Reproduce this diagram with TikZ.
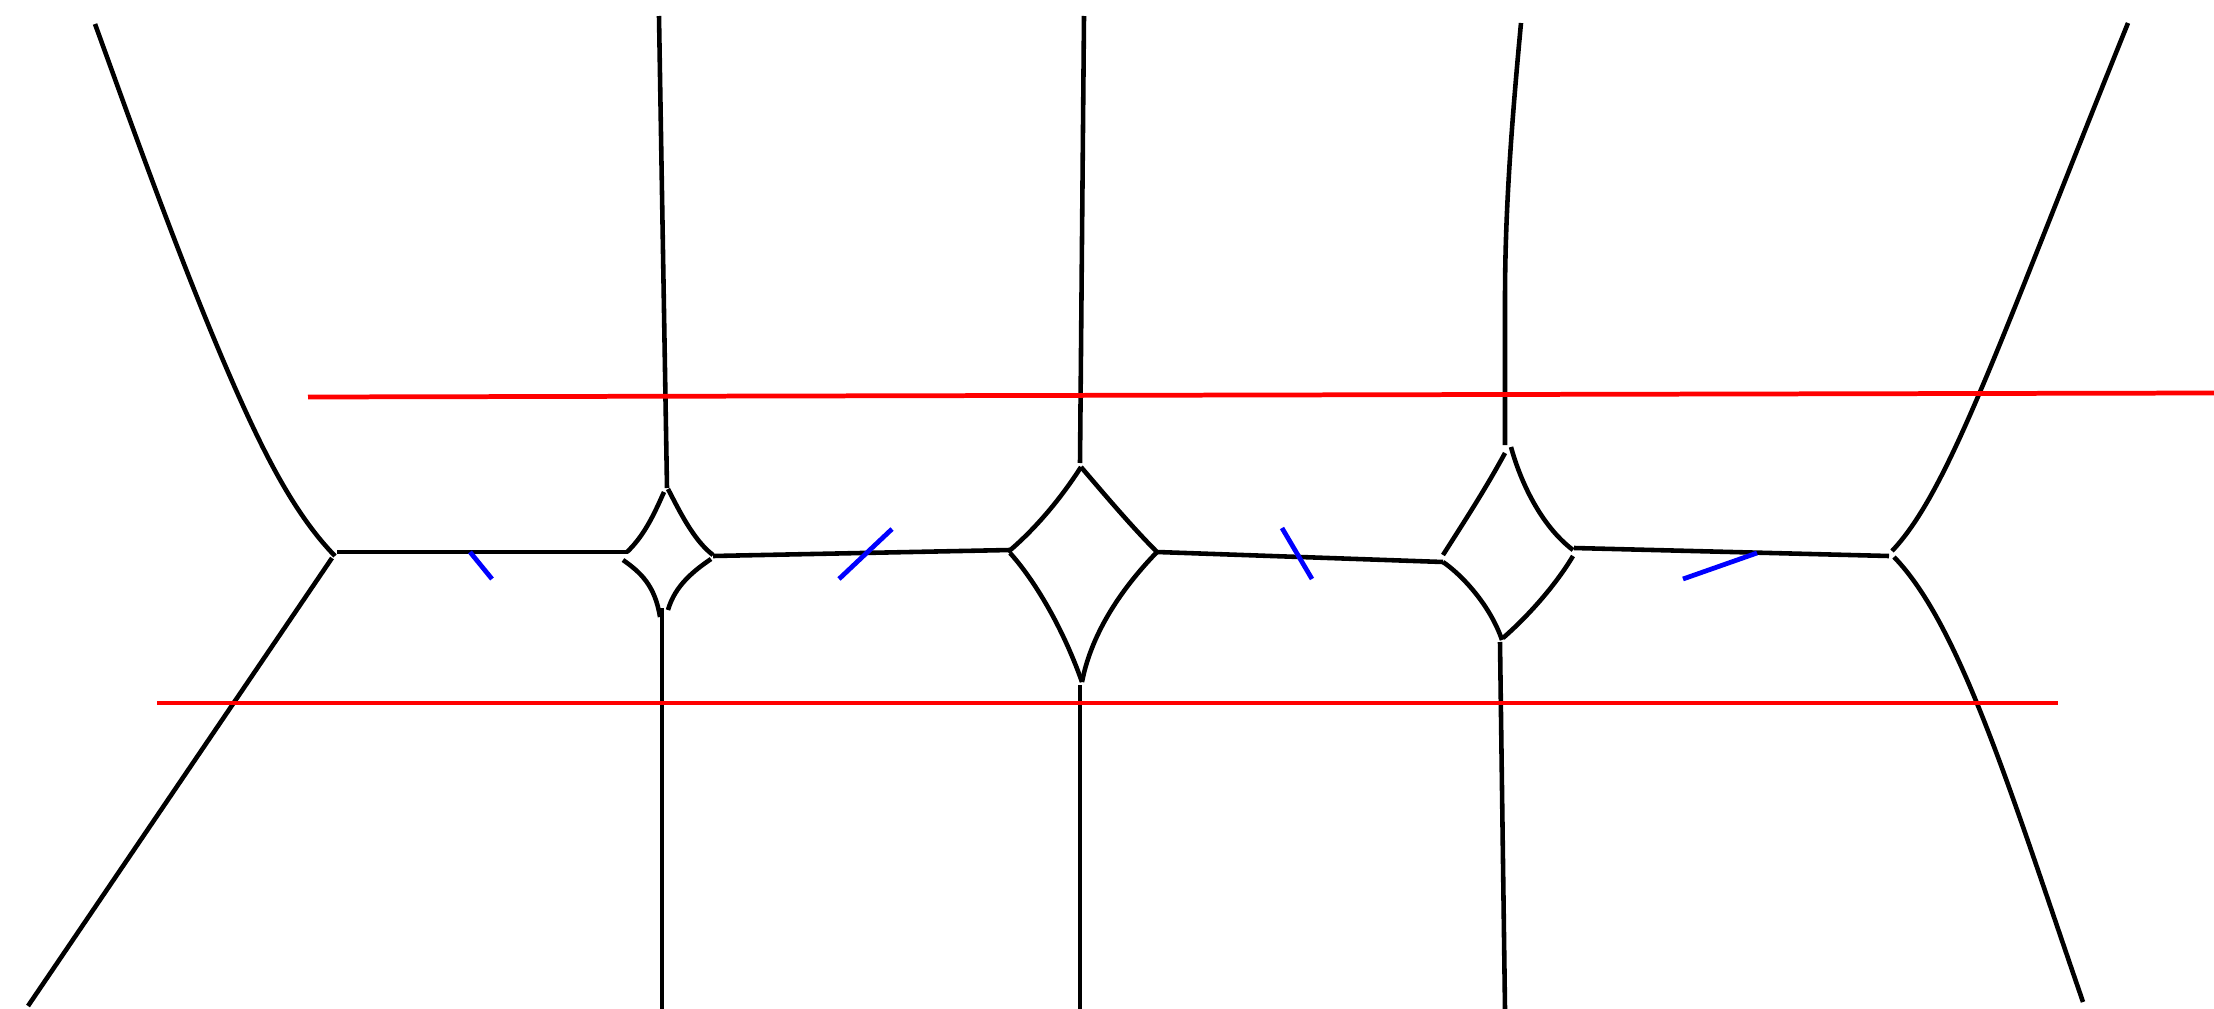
\documentclass[tikz,border=0pt]{standalone}
\begin{document}
\begin{tikzpicture}[x=0.01cm,y=-0.01cm,
  curve/.style={black,line width=1.3pt},
  redline/.style={red,line width=1.35pt},
  tickmark/.style={blue,line width=1.35pt}]
\useasboundingbox (0,0) rectangle (2214,1009);
% ---------- left junction ----------
\coordinate (L1top) at (95,24);
\coordinate (L1end) at (335,556);
\coordinate (L2start) at (332,558);
\coordinate (L2bot) at (28,1006);
\draw[curve] (L1top) .. controls (130,120) and (190,290) .. (245,410) .. controls (272.5,470) and (300,520) .. (L1end);
\draw[curve] (L2start) -- (L2bot);
\coordinate (H1a) at (337,552);
\coordinate (H1b) at (628,552);
\draw[curve] (H1a) -- (H1b);
% ---------- junction 2 ----------
\coordinate (V1top) at (659,16);
\coordinate (V1end) at (667,488);
\draw[curve] (V1top) -- (V1end);
\draw[curve] (664,492) .. controls (655,512) and (645,535) .. (627,552);
\draw[curve] (668,489) .. controls (678,508) and (693,540) .. (713,555);
\draw[curve] (623,560) .. controls (640,572) and (655,585) .. (660,617);
\draw[curve] (711,559) .. controls (695,570) and (675,585) .. (668,610);
\coordinate (V1b) at (662,608);
\coordinate (V1bot) at (662,1009);
\draw[curve] (V1b) -- (V1bot);
\coordinate (H2a) at (713,556);
\coordinate (H2b) at (1010,550);
\draw[curve] (H2a) -- (H2b);
% ---------- junction 3 ----------
\coordinate (V2top) at (1084,16);
\coordinate (V2end) at (1080,463);
\draw[curve] (V2top) -- (V2end);
\coordinate (D3t) at (1081,467);
\coordinate (D3l) at (1008,552);
\coordinate (D3r) at (1157,552);
\coordinate (D3b) at (1082,682);
\draw[curve] (D3t) .. controls (1065,492) and (1040,525) .. (D3l);
\draw[curve] (D3t) .. controls (1105,495) and (1132,527) .. (D3r);
\draw[curve] (1010,553) .. controls (1030,575) and (1060,620) .. (D3b);
\draw[curve] (D3r) .. controls (1125,585) and (1092,630) .. (D3b);
\coordinate (V2b) at (1080,685);
\coordinate (V2bot) at (1080,1009);
\draw[curve] (V2b) -- (V2bot);
\coordinate (H3b) at (1443,562);
\draw[curve] (D3r) -- (H3b);
% ---------- junction 4 ----------
\coordinate (V3top) at (1521,23);
\coordinate (V3end) at (1505,445);
\draw[curve] (V3top) .. controls (1510,140) and (1505,220) .. (1505,300) -- (V3end);
\draw[curve] (1505,453) .. controls (1485,490) and (1462,525) .. (1443,555);
\draw[curve] (1511,447) .. controls (1520,480) and (1540,525) .. (1573,550);
\draw[curve] (H3b) .. controls (1462,575) and (1490,605) .. (1502,640);
\draw[curve] (1573,556) .. controls (1560,578) and (1535,610) .. (1503,638);
\coordinate (V3b) at (1500,642);
\coordinate (V3bot) at (1505,1009);
\draw[curve] (V3b) -- (V3bot);
\coordinate (H4a) at (1574,548);
\coordinate (H4b) at (1889,556);
\draw[curve] (H4a) -- (H4b);
% ---------- right junction ----------
\coordinate (R1s) at (1892,551);
\coordinate (R1top) at (2128,23);
\coordinate (R2s) at (1894,557);
\coordinate (R2bot) at (2083,1002);
\draw[curve] (R1s) .. controls (1950,490) and (2000,340) .. (R1top);
\draw[curve] (R2s) .. controls (1960,625) and (2010,790) .. (R2bot);
% ---------- red lines ----------
\coordinate (RUa) at (308,397);
\coordinate (RUb) at (2214,393);
\coordinate (RLa) at (157,703);
\coordinate (RLb) at (2058,703);
\draw[redline] (RUa) -- (RUb);
\draw[redline] (RLa) -- (RLb);
% ---------- blue ticks ----------
\coordinate (T1a) at (470,552);
\coordinate (T1b) at (492,579);
\coordinate (T2a) at (892,529);
\coordinate (T2b) at (839,579);
\coordinate (T3a) at (1282,528);
\coordinate (T3b) at (1312,579);
\coordinate (T4a) at (1757,553);
\coordinate (T4b) at (1683,579);
\draw[tickmark] (T1a) -- (T1b);
\draw[tickmark] (T2a) -- (T2b);
\draw[tickmark] (T3a) -- (T3b);
\draw[tickmark] (T4a) -- (T4b);
\end{tikzpicture}
\end{document}
